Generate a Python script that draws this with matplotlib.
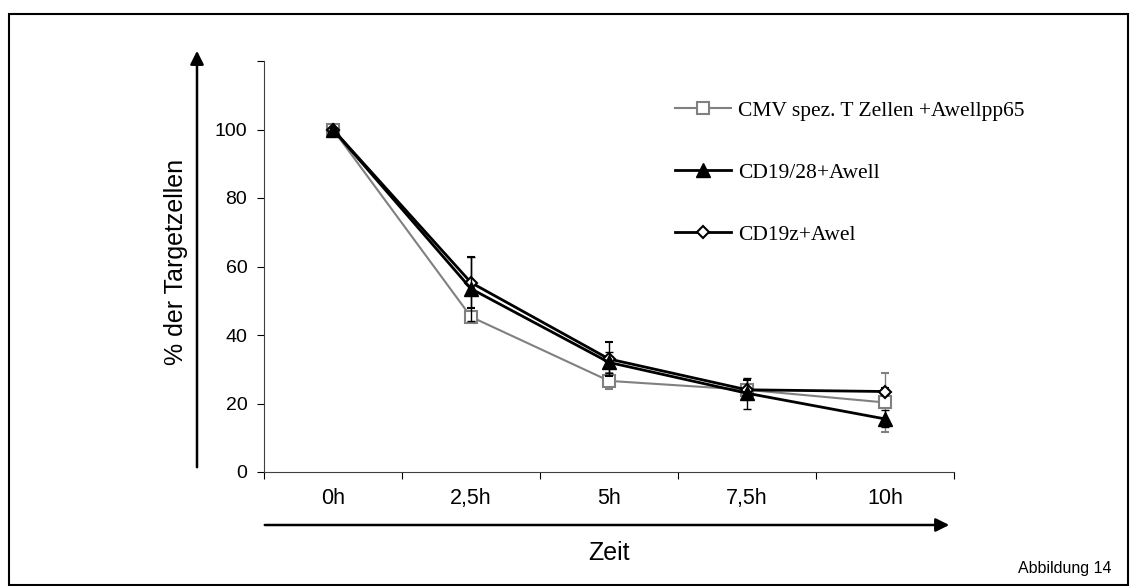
import matplotlib.pyplot as plt
from matplotlib.patches import Rectangle, FancyArrowPatch

zeit = ['0h', '2,5h', '5h', '7,5h', '10h']

cmv = [100, 45.3, 26.6, 24.0, 20.3]
cmv_err = [0.5, 1.2, 2.4, 1.0, 8.6]

cd1928 = [100, 53.5, 32.0, 23.0, 15.5]
cd1928_err = [0.5, 9.3, 3.0, 4.5, 2.5]

cd19z = [100, 55.3, 33.0, 24.0, 23.5]
cd19z_err = [0.5, 7.5, 5.0, 3.0, 1.0]

labels = ['CMV spez. T Zellen +Awellpp65', 'CD19/28+Awell', 'CD19z+Awel']

plt.rcParams['font.family'] = ['Liberation Sans', 'DejaVu Sans']

fig = plt.figure(figsize=(11.3, 5.86), dpi=100)
ax = fig.add_axes([264 / 1130, 1 - 472 / 586, 690 / 1130, 411 / 586])

x = list(range(len(zeit)))
gray = '#808080'

c1 = ax.errorbar(x, cmv, yerr=cmv_err, color=gray, lw=1.5, marker='s', ms=8,
                 mfc='white', mec=gray, mew=1.5, ecolor=gray, elinewidth=1,
                 capsize=3, zorder=2)
c3 = ax.errorbar(x, cd19z, yerr=cd19z_err, color='black', lw=2, marker='D', ms=6,
                 mfc='white', mec='black', mew=1.5, ecolor='black', elinewidth=1,
                 capsize=3, zorder=3)
c2 = ax.errorbar(x, cd1928, yerr=cd1928_err, color='black', lw=2, marker='^', ms=10,
                 mfc='black', mec='black', ecolor='black', elinewidth=1,
                 capsize=3, zorder=4)

ax.set_xlim(-0.5, len(zeit) - 0.5)
ax.set_ylim(0, 120)
ax.set_yticks([0, 20, 40, 60, 80, 100, 120])
ax.set_yticklabels(['0', '20', '40', '60', '80', '100', ''])
ax.set_xticks(x)
ax.set_xticklabels(zeit)
ax.set_xticks([i - 0.5 for i in range(len(zeit) + 1)], minor=True)
ax.tick_params(axis='x', which='major', length=0, pad=19, labelsize=15.5)
ax.tick_params(axis='x', which='minor', length=5, direction='out', width=0.8)
ax.tick_params(axis='y', length=5, direction='out', width=0.8, labelsize=14, pad=7)
for t in ax.get_xticklabels():
    t.set_verticalalignment('center')

for s in ['top', 'right']:
    ax.spines[s].set_visible(False)
for s in ['left', 'bottom']:
    ax.spines[s].set_linewidth(0.8)
    ax.spines[s].set_color('#404040')

ax.legend(handles=[c1[0], c2[0], c3[0]], labels=labels,
          loc='upper left', bbox_to_anchor=(664 / 1130, 1 - 90 / 586),
          bbox_transform=fig.transFigure, frameon=False,
          labelspacing=1.95, handlelength=2.6, handletextpad=0.35,
          borderpad=0, prop={'family': 'Liberation Serif', 'size': 15.5})

# axis arrows
fig.patches.append(FancyArrowPatch((197 / 1130, 1 - 470 / 586), (197 / 1130, 1 - 48 / 586),
                                   transform=fig.transFigure, arrowstyle='-|>',
                                   mutation_scale=20, lw=1.8, color='black'))
fig.patches.append(FancyArrowPatch((262 / 1130, 1 - 525 / 586), (952 / 1130, 1 - 525 / 586),
                                   transform=fig.transFigure, arrowstyle='-|>',
                                   mutation_scale=20, lw=1.8, color='black'))

fig.text(176 / 1130, 1 - 262 / 586, '% der Targetzellen', rotation=90,
         ha='center', va='center', fontsize=18)
fig.text(609 / 1130, 1 - 553 / 586, 'Zeit', ha='center', va='center', fontsize=18)
fig.text(1065 / 1130, 1 - 569 / 586, 'Abbildung 14', ha='center', va='center', fontsize=11.5)

fig.patches.append(Rectangle((9 / 1130, 1 / 586), 1119 / 1130, 571 / 586,
                             transform=fig.transFigure, fill=False,
                             lw=1.5, edgecolor='black'))

fig.savefig('out.png', dpi=100)
